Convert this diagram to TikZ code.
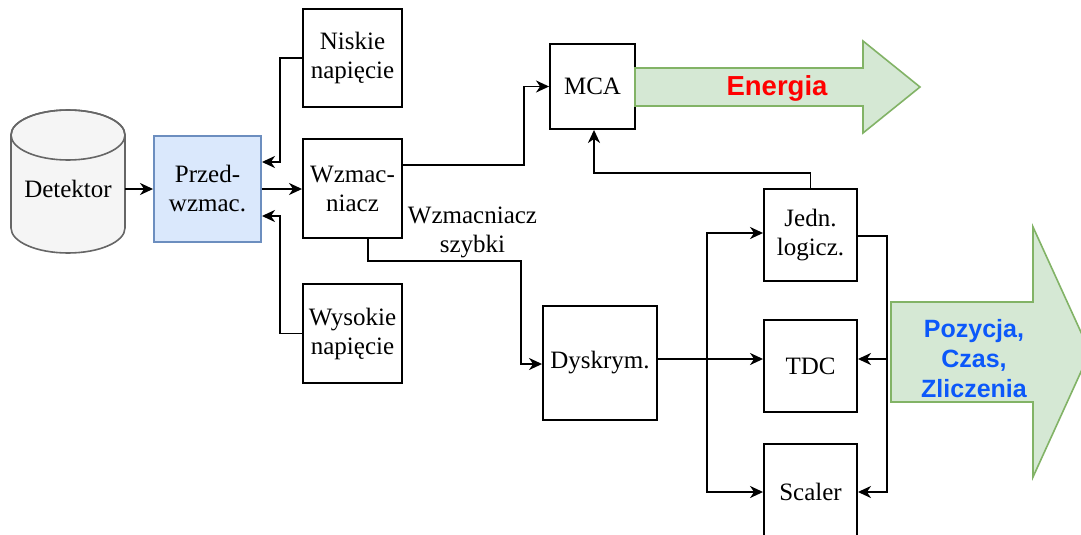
\documentclass[tikz,border=0pt]{standalone}
\usepackage{fontspec}
\setmainfont{Liberation Serif}
\newfontfamily\arialbold{Liberation Sans}
\usetikzlibrary{arrows.meta,calc}
\definecolor{cylfill}{HTML}{F5F5F5}
\definecolor{cyldraw}{HTML}{666666}
\definecolor{prefill}{HTML}{DAE8FC}
\definecolor{predraw}{HTML}{6C8EBF}
\definecolor{grfill}{HTML}{D5E8D4}
\definecolor{grdraw}{HTML}{82B366}
\definecolor{enred}{HTML}{FF0000}
\definecolor{pozblue}{RGB}{12,88,250}
\tikzset{
  every node/.style={font=\fontsize{25}{29}\selectfont, inner sep=0pt, align=center},
  blk/.style={draw, line width=1.9pt, fill=white},
  arr/.style={line width=1.9pt, -{Stealth[length=13pt,width=12pt,inset=4pt]}},
  bigarrow/.style={fill=grfill, draw=grdraw, line width=1.6pt, line join=miter},
  biglabel/.style={font=\arialbold\bfseries\fontsize{25}{30}\selectfont}
}
\begin{document}
\begin{tikzpicture}[x=1pt,y=-1pt]
\useasboundingbox (0,0) rectangle (1081,535);
\clip (0,0) rectangle (1081,535);
\fill[white] (0,0) rectangle (1081,535);

% detector cylinder
\path[fill=cylfill, draw=cyldraw, line width=1.6pt]
  (11,135) -- (11,228) arc[start angle=180, end angle=360, x radius=57pt, y radius=25pt]
  -- (125,135) arc[start angle=0, end angle=180, x radius=57pt, y radius=25pt] -- cycle;
\draw[draw=cyldraw, line width=1.6pt] (68,135) ellipse [x radius=57pt, y radius=25pt];
\node[minimum width=114pt, minimum height=30pt] (det) at (68,189) {Detektor};

% boxes
\node[blk, fill=prefill, draw=predraw, minimum width=107pt, minimum height=106pt] (pre) at (207.5,189) {Przed-\\wzmac.};
\node[blk, minimum width=99pt, minimum height=98pt] (nis) at (352.5,58) {Niskie\\napięcie};
\node[blk, minimum width=99pt, minimum height=99pt] (wz) at (352.5,188.5) {Wzmac-\\niacz};
\node[blk, minimum width=99pt, minimum height=99pt] (wys) at (352.5,333.5) {Wysokie\\napięcie};
\node[blk, minimum width=85pt, minimum height=85pt] (mca) at (592.5,86.5) {MCA};
\node[blk, minimum width=114pt, minimum height=114pt] (dys) at (600,363) {Dyskrym.};
\node[blk, minimum width=93pt, minimum height=92pt] (jed) at (810.5,235) {Jedn.\\logicz.};
\node[blk, minimum width=93pt, minimum height=92pt] (tdc) at (810.5,366) {TDC};
\node[blk, minimum width=93pt, minimum height=100pt] (sca) at (810.5,494) {};
\node (scat) at (810.5,492) {Scaler};

\node (wzs) at (472.5,232) {Wzmacniacz\\szybki};

% big arrows
\path[bigarrow] (635,68) -- (863,68) -- (863,41) -- (920,87) -- (863,133) -- (863,106) -- (635,106) -- cycle;
\node[biglabel, text=enred, font=\arialbold\bfseries\fontsize{27.5}{33}\selectfont] (en) at (777,88) {Energia};
\path[bigarrow] (891,302) -- (1033,302) -- (1033,227) -- (1090,352) -- (1033,477) -- (1033,402) -- (891,402) -- cycle;
\node[biglabel, text=pozblue] (poz) at (974,359) {Pozycja,\\Czas,\\Zliczenia};

% connectors
\draw[arr] (det.east) -- (pre.west |- det.east);
\draw[arr] (nis.west) -- ++(-22,0) |- ($(pre.east)+(0,-27)$);
\draw[arr] (pre.east) -- (wz.west |- pre.east);
\draw[arr] (wys.west) -- ++(-22,0) |- ($(pre.east)+(0,27)$);
\draw[arr] ($(wz.east)+(0,-23.5)$) -- ++(121,0) |- (mca.west);
\draw[arr] ($(wz.south)+(15.5,0)$) -- ++(0,22) -| ($(dys.west)+(-21,1)$) -- ($(dys.west)+(0,1)$);
\coordinate (dyo) at ($(dys.east)+(0,-4)$);
\coordinate (jn) at ($(dyo)+(49,0)$);
\draw[arr] (dyo) -- (tdc.west |- dyo);
\draw[arr] (jn) |- ($(jed.west)+(0,-2)$);
\draw[arr] (jn) |- ($(sca.west)+(0,-2)$);
\coordinate (jo) at ($(jed.east)+(0,1)$);
\coordinate (jr) at ($(jo)+(29,0)$);
\draw[arr] (jo) -- (jr) |- (tdc.east |- dyo);
\draw[arr] (jr) |- ($(sca.east)+(0,-2)$);
\draw[arr] (jed.north) -- ++(0,-15) -| ($(mca.south)+(1.5,0)$);
\end{tikzpicture}
\end{document}
